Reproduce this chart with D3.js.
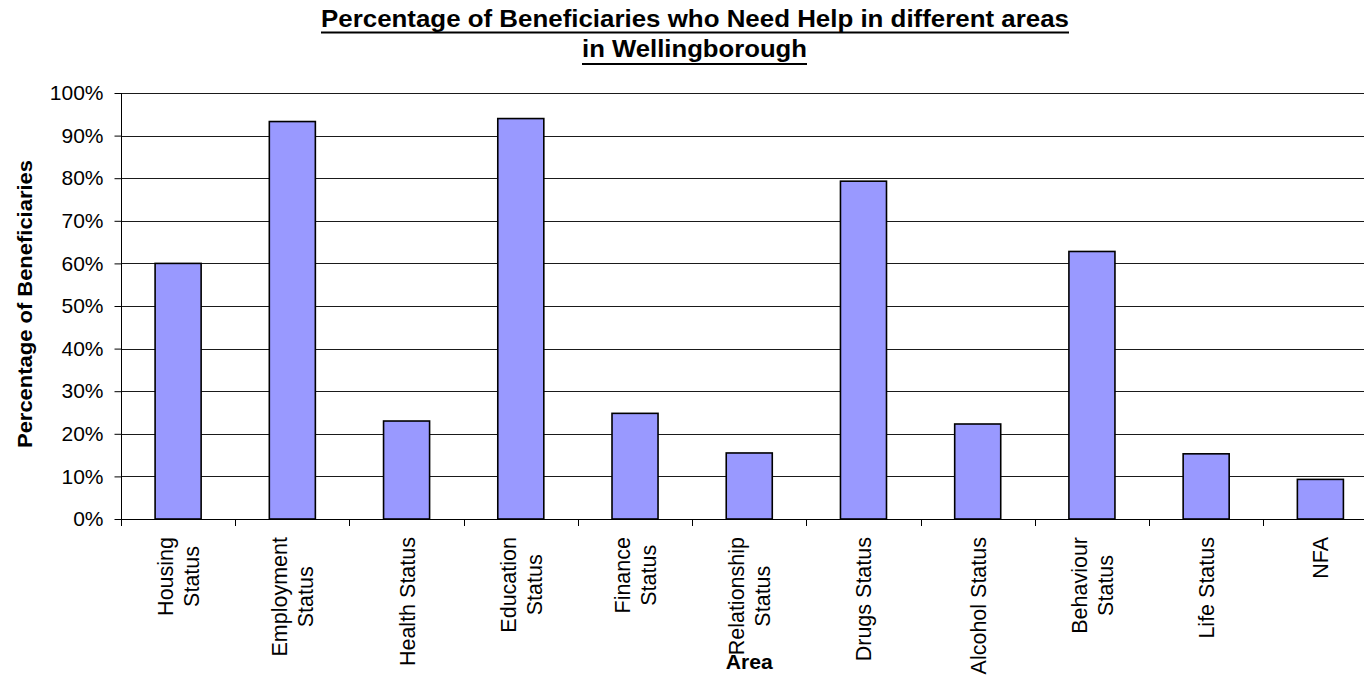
<!DOCTYPE html>
<html><head><meta charset="utf-8">
<script src="https://cdn.jsdelivr.net/npm/d3@7"></script>
<style>
html,body{margin:0;padding:0;background:#fff;overflow:hidden;}
text{font-family:Arial,"Liberation Sans",sans-serif;}
</style></head>
<body><svg id="c" width="1364" height="679"></svg>
<script>
const categories = [["Housing","Status"],["Employment","Status"],["Health Status"],["Education","Status"],["Finance","Status"],["Relationship","Status"],["Drugs Status"],["Alcohol Status"],["Behaviour","Status"],["Life Status"],["NFA"]];
const values = [60, 93.3, 23, 94, 24.8, 15.5, 79.3, 22.3, 62.8, 15.3, 9.3];
const yTicks = [0,10,20,30,40,50,60,70,80,90,100];
const titleLines = ["Percentage of Beneficiaries who Need Help in different areas","in Wellingborough"];

const svg = d3.select("#c");
const L = 121, R = 1377.5, T = 93, B = 519;
const keys = categories.map((c,i)=>i);
const x = d3.scaleBand().domain(keys).range([L,R]).padding(0);
const y = d3.scaleLinear().domain([0,100]).range([B,T]);

// gridlines
svg.append("g").selectAll("line").data(yTicks.filter(d=>d>0)).join("line")
  .attr("x1",L).attr("x2",R)
  .attr("y1",d=>Math.round(y(d))+0.5).attr("y2",d=>Math.round(y(d))+0.5)
  .attr("stroke","#1a1a1a").attr("stroke-width",1);

// bars
const bw = x.bandwidth()*0.403;
svg.append("g").selectAll("rect").data(values).join("rect")
  .attr("x",(d,i)=>x(i)+x.bandwidth()/2-bw/2)
  .attr("y",d=>y(d))
  .attr("width",bw)
  .attr("height",d=>B-y(d))
  .attr("fill","#9999FF").attr("stroke","#000").attr("stroke-width",1.6);

// y axis
const ya = d3.axisLeft(y).tickValues(yTicks).tickFormat(d=>d+"%").tickSize(7).tickPadding(11);
const gy = svg.append("g").attr("transform",`translate(${L+0.5},0)`).call(ya);
gy.select(".domain").attr("stroke","#000").attr("d",`M0,${T}V${B}`);
gy.selectAll(".tick line").attr("stroke","#000");
gy.selectAll(".tick text").attr("font-size","21px").attr("fill","#000")
  .attr("font-family","Arial, 'Liberation Sans', sans-serif");

// x axis line and ticks at boundaries
svg.append("line").attr("x1",L).attr("x2",R).attr("y1",B+0.5).attr("y2",B+0.5).attr("stroke","#000");
svg.append("g").selectAll("line").data(d3.range(keys.length+1)).join("line")
  .attr("x1",d=>Math.round(L+d*x.step())+0.5).attr("x2",d=>Math.round(L+d*x.step())+0.5)
  .attr("y1",B).attr("y2",B+7).attr("stroke","#000");

// category labels (rotated)
const lineGap = 26;
const labG = svg.append("g");
categories.forEach((lines,i)=>{
  const cx = x(i)+x.bandwidth()/2;
  const g = labG.append("g");
  const n = lines.length;
  const texts = lines.map((s,j)=>g.append("text").text(s).attr("font-size","21.5px").attr("fill","#000").attr("text-anchor","middle"));
  const maxLen = d3.max(texts.map(t=>t.node().getComputedTextLength()));
  const cy = 537 + maxLen/2;
  texts.forEach((t,j)=>{
    const bx = cx + (j - (n-1)/2)*lineGap + 8;
    t.attr("transform",`translate(${bx},${cy}) rotate(-90)`);
  });
});

// axis titles
svg.append("text").text("Area").attr("x",(L+R)/2).attr("y",669)
  .attr("text-anchor","middle").attr("font-weight","bold").attr("font-size","20px")
  .attr("textLength",47).attr("lengthAdjust","spacingAndGlyphs");
svg.append("text").text("Percentage of Beneficiaries")
  .attr("transform",`translate(32,304) rotate(-90)`)
  .attr("text-anchor","middle").attr("font-weight","bold").attr("font-size","20px")
  .attr("textLength",288).attr("lengthAdjust","spacingAndGlyphs");

// title
const tg = svg.append("g");
const titleSpec = [{x:321, w:748, y:27, uy:32.5},{x:582, w:225, y:57, uy:64}];
titleLines.forEach((s,i)=>{
  const sp = titleSpec[i];
  tg.append("text").text(s).attr("x",sp.x).attr("y",sp.y)
    .attr("text-anchor","start").attr("font-weight","bold").attr("font-size","23px")
    .attr("textLength",sp.w).attr("lengthAdjust","spacingAndGlyphs");
  tg.append("line").attr("x1",sp.x).attr("x2",sp.x+sp.w).attr("y1",sp.uy).attr("y2",sp.uy)
    .attr("stroke","#000").attr("stroke-width",2);
});
</script></body></html>
